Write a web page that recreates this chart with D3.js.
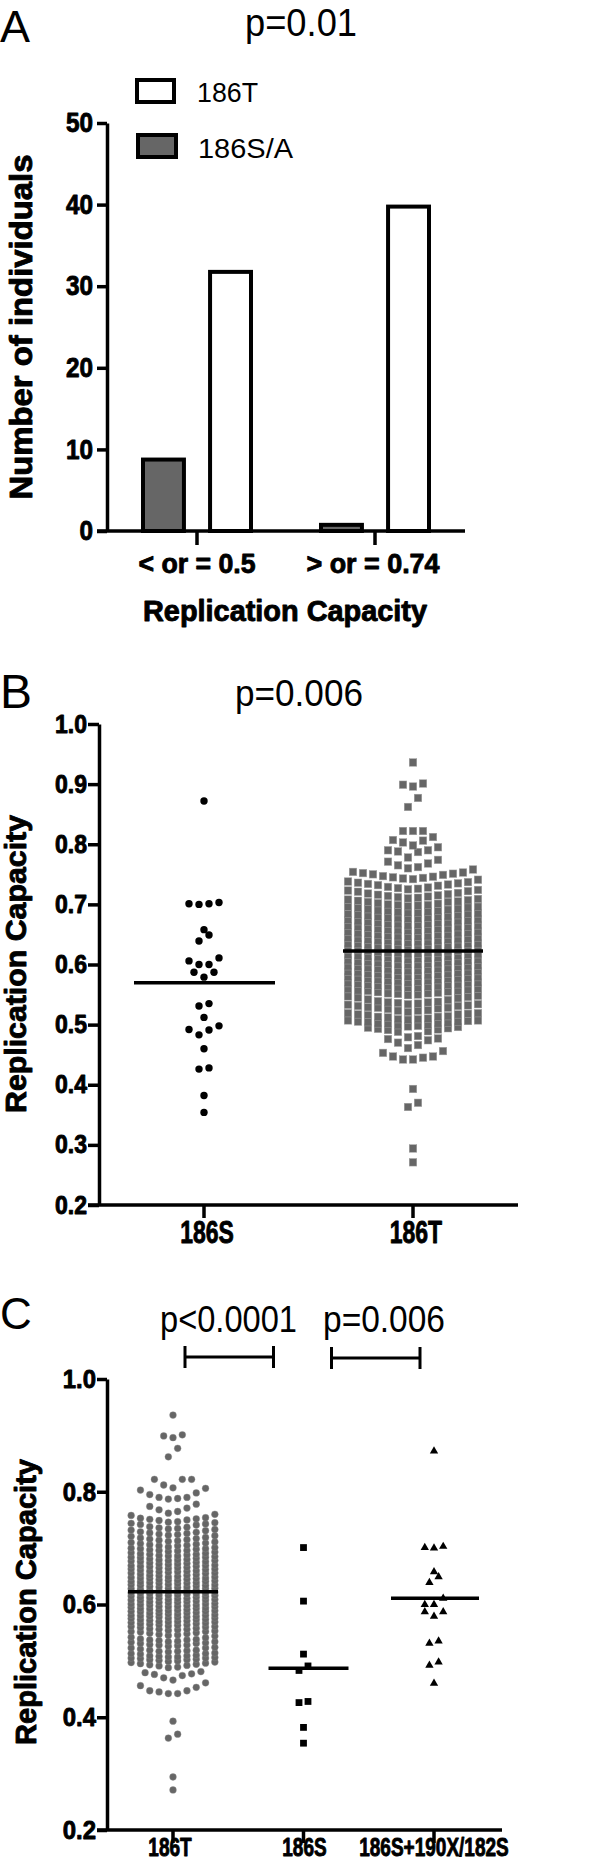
<!DOCTYPE html>
<html><head><meta charset="utf-8">
<script src="https://cdnjs.cloudflare.com/ajax/libs/d3/7.8.5/d3.min.js"></script>
<style>html,body{margin:0;padding:0;background:#fff;} svg{display:block;} text{font-family:"Liberation Sans",Arial,sans-serif;}</style>
</head><body><svg id="fig" width="600" height="1864"></svg>
<script>
// ---------------- DATA ----------------
// Panel A
const catsA = ["< or = 0.5", "> or = 0.74"];
const seriesA = ["186S/A", "186T"];
const count186SA = [9, 1];
const count186T = [32, 40];
const ticksA = [0, 10, 20, 30, 40, 50];

// Replication capacity, individuals carrying 186S only
const rc186S = [0.701, 0.606, 0.512, 0.491, 0.483, 0.426, 0.428, 0.382, 0.354];
// Replication capacity, 186S + 190X/182S
const rc186S190X = [0.872, 0.703, 0.700, 0.701, 0.658, 0.649, 0.639, 0.611, 0.600, 0.600,
  0.587, 0.587, 0.579, 0.535, 0.531, 0.498, 0.492, 0.460];
// Replication capacity, 186T
const rc186T = [
  0.271, 0.294, 0.363, 0.370, 0.393,
  0.442, 0.442, 0.445, 0.447, 0.447, 0.453, 0.456, 0.461,
  0.466, 0.470, 0.474, 0.476, 0.477, 0.479, 0.481,
  0.488, 0.489, 0.491, 0.492, 0.493, 0.494, 0.495, 0.496, 0.497, 0.498, 0.499, 0.500,
  0.501, 0.502, 0.502, 0.503, 0.504, 0.505, 0.505, 0.506, 0.507, 0.507, 0.508, 0.509, 0.509, 0.510,
  0.512, 0.513, 0.513, 0.514, 0.516, 0.517, 0.517, 0.518, 0.519, 0.519,
  0.521, 0.523, 0.523, 0.524, 0.526, 0.527, 0.528, 0.528, 0.529,
  0.531, 0.531, 0.532, 0.533, 0.534, 0.534, 0.535, 0.536, 0.537, 0.537, 0.538, 0.539,
  0.541, 0.542, 0.544, 0.545, 0.546, 0.547, 0.548, 0.549,
  0.550, 0.551, 0.552, 0.552, 0.553, 0.554, 0.555, 0.556, 0.556, 0.557, 0.558, 0.559,
  0.560, 0.561, 0.561, 0.562, 0.563, 0.564, 0.564, 0.565, 0.566, 0.566, 0.567, 0.568, 0.569, 0.569,
  0.570, 0.570, 0.571, 0.572, 0.573, 0.573, 0.574, 0.575, 0.576, 0.576, 0.577, 0.578, 0.578, 0.579, 0.579,
  0.580, 0.581, 0.581, 0.582, 0.583, 0.583, 0.584, 0.585, 0.585, 0.586, 0.587, 0.588, 0.588, 0.589, 0.589,
  0.590, 0.590, 0.591, 0.592, 0.593, 0.593, 0.594, 0.595, 0.596, 0.596, 0.597, 0.597, 0.598, 0.599, 0.599,
  0.600, 0.601, 0.601, 0.602, 0.603, 0.604, 0.604, 0.605, 0.605, 0.606, 0.607, 0.608, 0.608, 0.609, 0.609,
  0.610, 0.611, 0.611, 0.612, 0.613, 0.613, 0.614, 0.615, 0.616, 0.616, 0.617, 0.617, 0.618, 0.619, 0.619,
  0.620, 0.620, 0.621, 0.622, 0.623, 0.623, 0.624, 0.625, 0.625, 0.626, 0.627, 0.628, 0.628, 0.629, 0.629,
  0.630, 0.631, 0.631, 0.632, 0.633, 0.634, 0.634, 0.635, 0.635, 0.636, 0.637, 0.638, 0.638, 0.639, 0.639,
  0.640, 0.641, 0.641, 0.642, 0.643, 0.643, 0.644, 0.645, 0.646, 0.646, 0.647, 0.647, 0.648, 0.649, 0.649,
  0.650, 0.651, 0.652, 0.652, 0.653, 0.654, 0.655, 0.656, 0.656, 0.657, 0.658, 0.658, 0.659, 0.659,
  0.660, 0.661, 0.662, 0.663, 0.663, 0.664, 0.665, 0.665, 0.666, 0.667, 0.668, 0.668, 0.669, 0.669,
  0.670, 0.671, 0.672, 0.672, 0.673, 0.674, 0.675, 0.676, 0.676, 0.677, 0.678, 0.678, 0.679, 0.679,
  0.680, 0.681, 0.682, 0.683, 0.684, 0.684, 0.685, 0.686, 0.686, 0.687, 0.688, 0.689, 0.689,
  0.690, 0.691, 0.692, 0.693, 0.694, 0.695, 0.696, 0.696, 0.697, 0.698, 0.699, 0.699,
  0.700, 0.701, 0.702, 0.704, 0.704, 0.705, 0.706, 0.707, 0.708, 0.709,
  0.710, 0.711, 0.712, 0.713, 0.714, 0.715, 0.716, 0.717, 0.718, 0.719,
  0.721, 0.722, 0.723, 0.724, 0.725, 0.726, 0.727, 0.728, 0.729,
  0.731, 0.732, 0.733, 0.734, 0.735, 0.736, 0.737, 0.738,
  0.741, 0.742, 0.743, 0.744, 0.745, 0.746, 0.747, 0.749, 0.750, 0.751, 0.752, 0.753, 0.754,
  0.758, 0.760, 0.762, 0.765, 0.768, 0.771, 0.774, 0.778,
  0.787, 0.788, 0.790, 0.790, 0.795, 0.798, 0.803, 0.806, 0.807,
  0.812, 0.822, 0.822, 0.822, 0.862, 0.877, 0.896, 0.899, 0.901, 0.936
];
const catsB = ["186S", "186T"];
const catsC = ["186T", "186S", "186S+190X/182S"];
const ticksB = [0.2, 0.3, 0.4, 0.5, 0.6, 0.7, 0.8, 0.9, 1.0];
const ticksC = [0.2, 0.4, 0.6, 0.8, 1.0];
const pA = "p=0.01", pB = "p=0.006", pC = ["p<0.0001", "p=0.006"];

// ---------------- DRAWING ----------------
const svg = d3.select("#fig");
svg.append("rect").attr("width", 600).attr("height", 1864).attr("fill", "#fff");
const GRAY = "#666666";
const AXW = 3.5;
const HEAVY = 0.9; // extra stroke for the heavy bold labels

function addText(s, x, y, size, o = {}) {
  const t = svg.append("text").attr("x", x).attr("y", y).attr("font-size", size)
    .attr("font-weight", o.bold ? "bold" : "normal").attr("text-anchor", o.anchor || "middle")
    .attr("fill", "#000").text(s);
  if (o.bold) t.attr("stroke", "#000").attr("stroke-width", o.heavy || HEAVY).attr("stroke-linejoin", "round");
  if (o.rotate) t.attr("transform", `rotate(-90,${x},${y})`);
  if (o.width) t.attr("textLength", o.width).attr("lengthAdjust", "spacingAndGlyphs");
  return t;
}
function squeeze(sel, k) {
  sel.each(function () {
    const w = this.getComputedTextLength();
    this.setAttribute("textLength", w * k);
    this.setAttribute("lengthAdjust", "spacingAndGlyphs");
  });
}
function styleAxis(g, fs, k) {
  g.attr("font-family", null);
  g.select(".domain").attr("stroke", "#000").attr("stroke-width", AXW);
  g.selectAll(".tick line").attr("stroke", "#000").attr("stroke-width", AXW);
  const t = g.selectAll(".tick text").attr("font-size", fs).attr("font-weight", "bold").attr("fill", "#000")
    .attr("stroke", "#000").attr("stroke-width", HEAVY).attr("stroke-linejoin", "round")
    .style("font-family", '"Liberation Sans", Arial, sans-serif');
  squeeze(t, k);
}
function line(x1, y1, x2, y2, w) {
  svg.append("line").attr("x1", x1).attr("y1", y1).attr("x2", x2).attr("y2", y2)
    .attr("stroke", "#000").attr("stroke-width", w || AXW);
}
// Prism-like row layout: rows of close values, lowest value at centre, alternating outwards
function rowLayout(values, h, maxN) {
  const s = values.slice().sort(d3.ascending);
  const rows = [];
  let cur = null;
  for (const v of s) {
    if (!cur || v - cur.start >= h - 1e-9 || cur.pts.length >= maxN) { cur = { start: v, pts: [] }; rows.push(cur); }
    cur.pts.push(v);
  }
  const out = [];
  rows.forEach(r => {
    const n = r.pts.length;
    r.pts.forEach((v, i) => {
      let off;
      if (n % 2 === 1) { const k = Math.ceil(i / 2); off = i === 0 ? 0 : (i % 2 === 1 ? -k : k); }
      else { const k = Math.floor(i / 2) + 0.5; off = i % 2 === 0 ? -k : k; }
      out.push({ v, off });
    });
  });
  return out;
}

// ===== Panel A =====
addText("A", 0, 42, 45, { anchor: "start" });
addText(pA, 245, 36, 39, { anchor: "start", width: 112 });
const yA = d3.scaleLinear().domain([0, 50]).range([531, 123]);
const xA = d3.scalePoint().domain(catsA).range([197, 375]);
const xA1 = d3.scaleBand().domain(seriesA).range([-56, 56]).paddingInner(0.33);
const barRows = catsA.map((c, i) => ({ cat: c, vals: [{ s: seriesA[0], v: count186SA[i] }, { s: seriesA[1], v: count186T[i] }] }));
svg.append("g").selectAll("g").data(barRows).join("g")
  .attr("transform", d => `translate(${xA(d.cat)},0)`)
  .selectAll("rect").data(d => d.vals).join("rect")
  .attr("x", d => xA1(d.s) + 2).attr("width", xA1.bandwidth() - 4)
  .attr("y", d => yA(d.v) + 2).attr("height", d => yA(0) - yA(d.v) - 2)
  .attr("fill", d => d.s === "186T" ? "#fff" : GRAY).attr("stroke", "#000").attr("stroke-width", 4);
const axA = svg.append("g").attr("transform", "translate(107,0)")
  .call(d3.axisLeft(yA).tickValues(ticksA).tickSize(10).tickSizeOuter(0).tickPadding(4).tickFormat(d3.format("d")));
styleAxis(axA, 27, 0.9);
line(97, 531, 465, 531);
catsA.forEach(c => line(xA(c), 531, xA(c), 545));
const catWA = [117, 133];
catsA.forEach((c, i) => addText(c, xA(c) - (i ? 2 : 0), 573, 28, { bold: true, width: catWA[i] }));
addText("Replication Capacity", 285, 621, 29, { bold: true, width: 284 });
addText("Number of individuals", 32, 327, 31, { bold: true, rotate: true, width: 345 });
// legend
svg.append("rect").attr("x", 137).attr("y", 80).attr("width", 37).attr("height", 22).attr("fill", "#fff").attr("stroke", "#000").attr("stroke-width", 4);
svg.append("rect").attr("x", 138).attr("y", 135).attr("width", 38).attr("height", 22).attr("fill", GRAY).attr("stroke", "#000").attr("stroke-width", 4);
addText(seriesA[1], 197, 102, 28, { anchor: "start", width: 61 });
addText(seriesA[0], 198, 158, 28, { anchor: "start", width: 95 });

// ===== Panel B =====
addText("B", 0, 708, 48, { anchor: "start" });
addText(pB, 235, 706, 37, { anchor: "start", width: 128 });
const yB = d3.scaleLinear().domain([0.2, 1.0]).range([1205, 724]);
const xB = d3.scalePoint().domain(catsB).range([204, 413]);
const rc186S_all = rc186S.concat(rc186S190X);
// 186T squares
const lbT = rowLayout(rc186T, 0.018, 14);
svg.append("g").selectAll("rect").data(lbT).join("rect")
  .attr("x", d => xB("186T") + d.off * 10 - 3.75).attr("y", d => yB(d.v) - 3.75)
  .attr("width", 7.5).attr("height", 7.5).attr("fill", GRAY).attr("stroke", "#a0a0a0").attr("stroke-width", 0.5);
// 186S circles
const lbS = rowLayout(rc186S_all, 0.018, 20);
svg.append("g").selectAll("circle").data(lbS).join("circle")
  .attr("cx", d => xB("186S") + d.off * 10).attr("cy", d => yB(d.v)).attr("r", 3.7).attr("fill", "#000");
line(xB("186S") - 70, yB(d3.mean(rc186S_all)), xB("186S") + 71, yB(d3.mean(rc186S_all)), 3.5);
line(xB("186T") - 70, yB(d3.mean(rc186T)), xB("186T") + 70, yB(d3.mean(rc186T)), 3.5);
const axB = svg.append("g").attr("transform", "translate(99,0)")
  .call(d3.axisLeft(yB).tickValues(ticksB).tickSize(11).tickSizeOuter(0).tickPadding(1).tickFormat(d3.format(".1f")));
styleAxis(axB, 25, 0.92);
line(88, 1205, 518, 1205);
catsB.forEach(c => line(xB(c), 1205, xB(c), 1218));
const labB = catsB.map(c => addText(c, xB(c) + 3, 1243, 31, { bold: true }));
labB.forEach(t => squeeze(t, 0.74));
addText("Replication Capacity", 26, 964, 30, { bold: true, rotate: true, width: 298 });

// ===== Panel C =====
addText("C", 0, 1329, 44, { anchor: "start" });
addText(pC[0], 160, 1332, 36, { anchor: "start", width: 137 });
addText(pC[1], 323, 1332, 36, { anchor: "start", width: 122 });
const yC = d3.scaleLinear().domain([0.2, 1.0]).range([1830, 1379]);
const xC = d3.scalePoint().domain(catsC).range([173, 434]);
// comparison brackets
[[xC(catsC[0]) + 12, xC(catsC[1]) - 30, 1357], [xC(catsC[1]) + 28, xC(catsC[2]) - 14, 1358]].forEach(([a, b, y]) => {
  line(a, y, b, y, 3); line(a, y - 11, a, y + 11, 3); line(b, y - 11, b, y + 11, 3);
});
const lcT = rowLayout(rc186T, 0.02, 10);
svg.append("g").selectAll("circle").data(lcT).join("circle")
  .attr("cx", d => xC("186T") + d.off * 9.3).attr("cy", d => yC(d.v)).attr("r", 3.4)
  .attr("fill", GRAY).attr("stroke", "#8a8a8a").attr("stroke-width", 0.4);
const lcS = rowLayout(rc186S, 0.018, 20);
svg.append("g").selectAll("rect").data(lcS).join("rect")
  .attr("x", d => xC("186S") + d.off * 9 - 3.4).attr("y", d => yC(d.v) - 3.4)
  .attr("width", 6.8).attr("height", 6.8).attr("fill", "#000");
const lcX = rowLayout(rc186S190X, 0.018, 20);
svg.append("g").selectAll("path").data(lcX).join("path")
  .attr("d", d3.symbol(d3.symbolTriangle, 30))
  .attr("transform", d => `translate(${xC("186S+190X/182S") + d.off * 9.2},${yC(d.v)})`).attr("fill", "#000");
line(xC("186T") - 45, yC(d3.mean(rc186T)), xC("186T") + 45, yC(d3.mean(rc186T)), 3.5);
line(xC("186S") - 35, yC(d3.mean(rc186S)), xC("186S") + 45, yC(d3.mean(rc186S)), 3.5);
line(xC("186S+190X/182S") - 43, yC(d3.mean(rc186S190X)), xC("186S+190X/182S") + 45, yC(d3.mean(rc186S190X)), 3.5);
const axC = svg.append("g").attr("transform", "translate(107,0)")
  .call(d3.axisLeft(yC).tickValues(ticksC).tickSize(10).tickSizeOuter(0).tickPadding(1).tickFormat(d3.format(".1f")));
styleAxis(axC, 26, 0.92);
line(97, 1830, 502, 1830);
catsC.forEach(c => line(xC(c), 1830, xC(c), 1843));
const labC = catsC.map((c, i) => addText(c, xC(c) + [-3, 1, 0][i], 1856, 25, { bold: true }));
labC.forEach(t => squeeze(t, 0.76));
addText("Replication Capacity", 36, 1602, 29, { bold: true, rotate: true, width: 286 });
</script></body></html>
